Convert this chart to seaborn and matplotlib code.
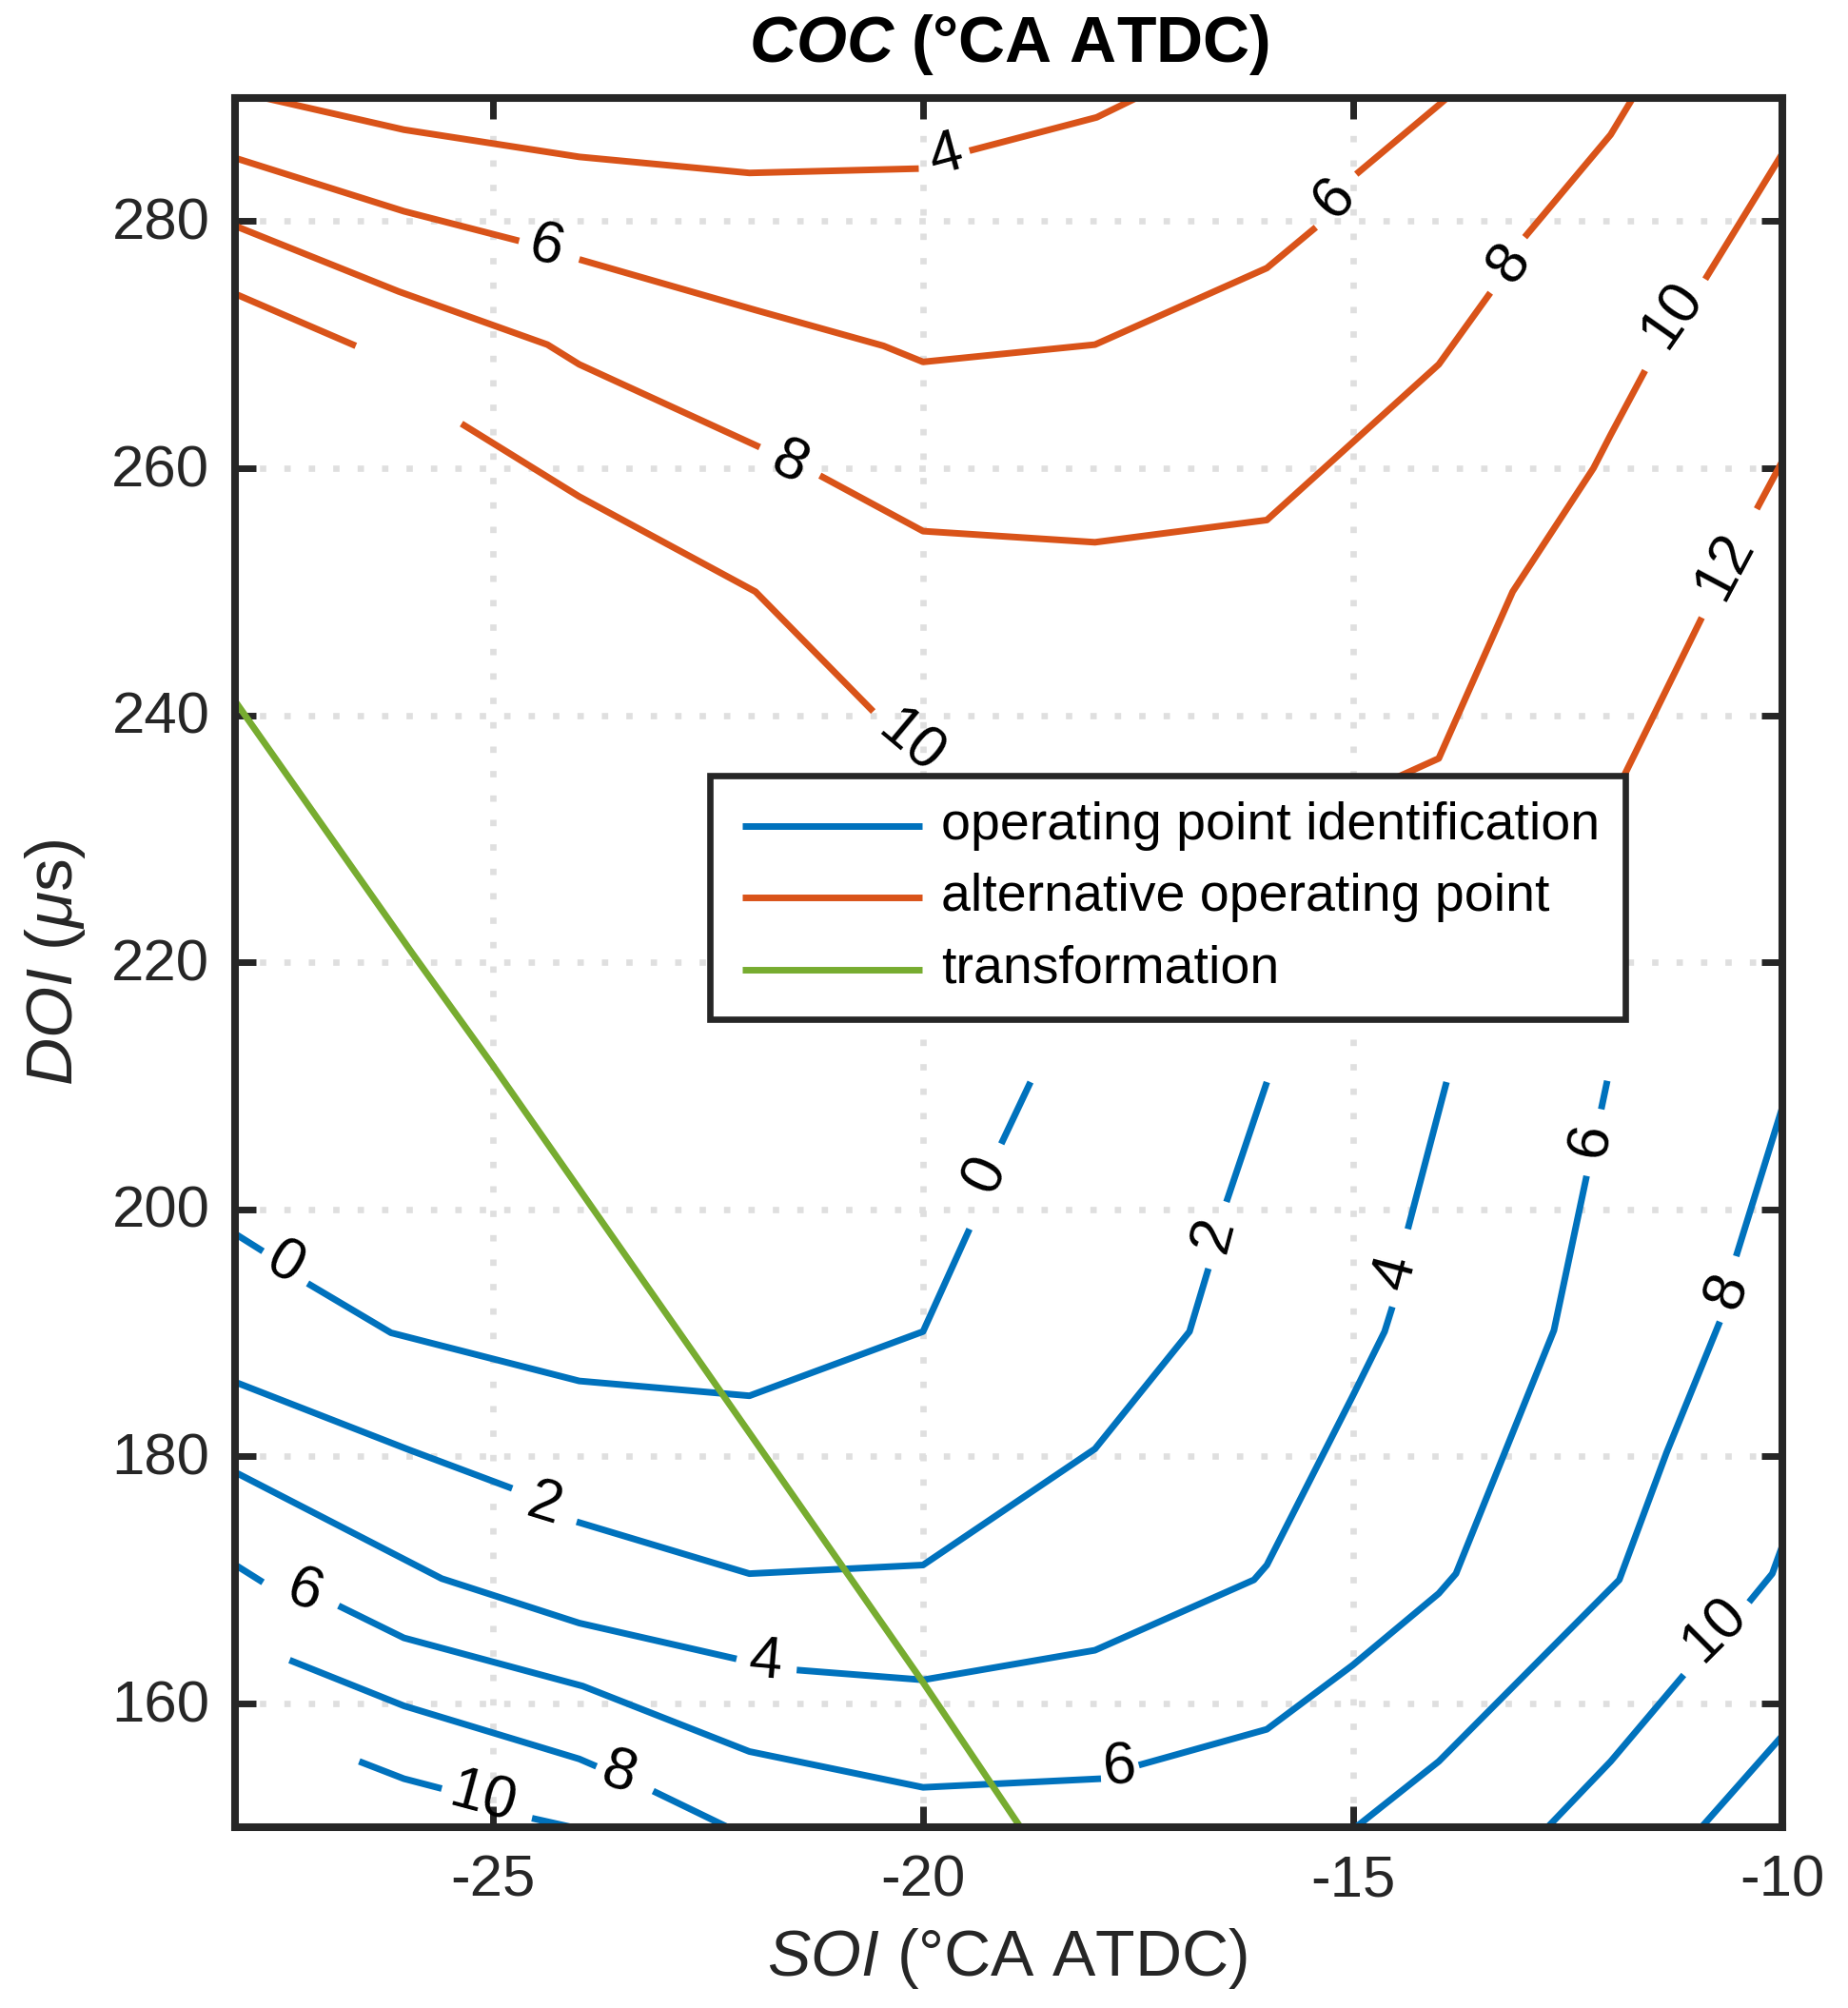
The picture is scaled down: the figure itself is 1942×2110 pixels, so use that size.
import matplotlib
matplotlib.use("Agg")
import matplotlib.pyplot as plt
from matplotlib.legend_handler import HandlerLine2D
from matplotlib.lines import Line2D
from matplotlib.transforms import ScaledTranslation
import seaborn as sns

# ------------------------------
# DATA
# ------------------------------

# alternative operating point, contour pieces between the labels
alt_4a_x = [-28.0, -27.68, -26.04, -24.0, -22.02, -20.05]
alt_4a_y = [290.6, 290.0, 287.4, 285.2, 283.9, 284.25]
alt_4b_x = [-19.46, -17.98, -17.51]
alt_4b_y = [285.7, 288.4, 290.0]
alt_6a_x = [-28.0, -26.04, -24.7]
alt_6a_y = [285.1, 280.8, 278.4]
alt_6b_x = [-24.0, -21.95, -20.46, -20.0, -18.0, -16.0, -15.43]
alt_6b_y = [276.9, 272.8, 269.9, 268.6, 270.0, 276.2, 279.5]
alt_6c_x = [-14.96, -14.0, -13.9]
alt_6c_y = [283.8, 289.4, 290.0]
alt_8a_x = [-28.0, -26.1, -24.37, -24.0, -21.9]
alt_8a_y = [279.6, 274.3, 270.0, 268.4, 261.7]
alt_8b_x = [-21.2, -20.0, -18.0, -16.0, -14.0, -13.4]
alt_8b_y = [259.4, 254.9, 254.0, 255.8, 268.4, 274.2]
alt_8c_x = [-13.0, -12.0, -11.74]
alt_8c_y = [278.7, 287.0, 290.0]
alt_10a_x = [-28.0, -26.6]
alt_10a_y = [274.1, 269.9]
alt_10b_x = [-25.37, -24.0, -21.95, -20.58]
alt_10b_y = [263.6, 257.7, 250.0, 240.3]
alt_10c_x = [-14.73, -14.0, -13.14, -12.2, -12.0, -11.6]
alt_10c_y = [234.2, 236.5, 250.0, 260.0, 262.7, 267.9]
alt_10d_x = [-10.9, -10.0]
alt_10d_y = [275.3, 285.5]
alt_12a_x = [-11.95, -10.94]
alt_12a_y = [233.6, 247.9]
alt_12b_x = [-10.3, -10.0]
alt_12b_y = [256.7, 260.6]

# operating point identification
op_0a_x = [-28.0, -27.68]
op_0a_y = [198.0, 196.6]
op_0b_x = [-27.16, -26.19, -24.0, -22.02, -20.0, -19.46]
op_0b_y = [194.0, 190.0, 186.1, 184.9, 190.1, 198.4]
op_0c_x = [-19.09, -18.75]
op_0c_y = [205.3, 210.3]
op_2a_x = [-28.0, -25.97, -24.78]
op_2a_y = [186.0, 180.5, 177.4]
op_2b_x = [-24.03, -22.02, -20.0, -18.0, -16.9, -16.68]
op_2b_y = [174.7, 170.5, 171.2, 180.6, 190.1, 195.2]
op_2c_x = [-16.47, -16.0]
op_2c_y = [200.6, 210.3]
op_4a_x = [-28.0, -25.6, -24.0, -22.17]
op_4a_y = [178.7, 170.1, 166.5, 163.6]
op_4b_x = [-21.47, -20.0, -18.0, -16.15, -16.0, -15.0, -14.63, -14.54]
op_4b_y = [162.7, 161.9, 164.3, 170.0, 171.2, 184.9, 190.1, 192.1]
op_4c_x = [-14.36, -13.91]
op_4c_y = [198.4, 210.3]
op_6a_x = [-28.0, -27.68]
op_6a_y = [171.2, 169.8]
op_6b_x = [-26.8, -26.04, -23.96, -22.02, -20.0, -17.93]
op_6b_y = [167.9, 165.3, 161.4, 156.1, 153.2, 153.9]
op_6c_x = [-17.49, -16.0, -15.0, -14.0, -13.8, -12.66, -12.28]
op_6c_y = [155.0, 157.9, 163.1, 168.9, 170.5, 190.2, 202.7]
op_6d_x = [-12.11, -12.04]
op_6d_y = [208.1, 210.4]
op_8a_x = [-27.37, -26.04, -24.0, -23.8]
op_8a_y = [163.5, 159.8, 155.5, 154.9]
op_8b_x = [-23.14, -22.28]
op_8b_y = [152.9, 150.0]
op_8c_x = [-14.96, -14.0, -11.9, -11.35, -10.73]
op_8c_y = [150.0, 155.3, 170.0, 180.3, 190.9]
op_8d_x = [-10.54, -10.0]
op_8d_y = [196.2, 208.3]
op_10a_x = [-26.56, -26.04, -25.6]
op_10a_y = [155.3, 153.9, 153.1]
op_10b_x = [-24.55, -24.1]
op_10b_y = [150.7, 150.0]
op_10c_x = [-12.73, -12.0, -11.15]
op_10c_y = [150.0, 155.3, 162.3]
op_10d_x = [-10.39, -10.12, -10.0]
op_10d_y = [168.2, 170.5, 172.8]
op_12_x = [-10.94, -10.0]
op_12_y = [150.0, 157.4]

# transformation
trans_x = [-28.0, -25.94, -25.0, -21.85, -20.0, -18.87]
trans_y = [241.1, 220.7, 211.6, 180.2, 161.7, 150.0]

# contour labels: value, x, y, text angle
alt_labels = [("4", -19.73, 285.3, 15), ("6", -24.38, 277.9, -15), ("8", -21.56, 260.4, -25),
              ("10", -20.15, 237.8, -40), ("6", -15.21, 281.8, 48), ("8", -13.18, 276.6, 55),
              ("10", -11.28, 272.4, 55), ("12", -10.68, 252.1, 62)]
op_labels = [("0", -27.43, 195.6, -30), ("2", -24.4, 176.1, -17), ("4", -21.83, 163.4, -5),
             ("6", -27.2, 169.0, -20), ("8", -23.54, 154.3, -17), ("10", -25.12, 152.3, -15),
             ("0", -19.27, 202.8, 65), ("2", -16.62, 198.0, 75), ("4", -14.51, 194.9, 75),
             ("6", -12.23, 205.6, 80), ("8", -10.64, 193.4, 70), ("10", -10.79, 166.0, 45),
             ("6", -17.71, 154.8, 5)]

x_ticks = [-25, -20, -15, -10]
y_ticks = [160, 180, 200, 220, 240, 260, 280]
legend_names = ["operating point identification", "alternative operating point", "transformation"]

BLUE = "#0072BD"
ORANGE = "#D95319"
GREEN = "#77AC30"
DARK = "#262626"
LINE_W = 5.0

# ------------------------------
# PLOT
# ------------------------------
sns.set_style("white")
plt.rcParams["font.family"] = ["Liberation Sans", "DejaVu Sans"]
plt.rcParams["mathtext.fontset"] = "custom"
plt.rcParams["mathtext.rm"] = "Liberation Sans"
plt.rcParams["mathtext.it"] = "Liberation Sans:italic"
plt.rcParams["mathtext.bf"] = "Liberation Sans:bold"
plt.rcParams["mathtext.bfit"] = "Liberation Sans:italic:bold"

fig = plt.figure(figsize=(19.42, 21.10), dpi=100)
ax = fig.add_axes([0.1274, 0.0902, 0.8372, 0.8612])

alt_pieces = [(alt_4a_x, alt_4a_y), (alt_4b_x, alt_4b_y), (alt_6a_x, alt_6a_y), (alt_6b_x, alt_6b_y),
              (alt_6c_x, alt_6c_y), (alt_8a_x, alt_8a_y), (alt_8b_x, alt_8b_y), (alt_8c_x, alt_8c_y),
              (alt_10a_x, alt_10a_y), (alt_10b_x, alt_10b_y), (alt_10c_x, alt_10c_y), (alt_10d_x, alt_10d_y),
              (alt_12a_x, alt_12a_y), (alt_12b_x, alt_12b_y)]
op_pieces = [(op_0a_x, op_0a_y), (op_0b_x, op_0b_y), (op_0c_x, op_0c_y), (op_2a_x, op_2a_y),
             (op_2b_x, op_2b_y), (op_2c_x, op_2c_y), (op_4a_x, op_4a_y), (op_4b_x, op_4b_y),
             (op_4c_x, op_4c_y), (op_6a_x, op_6a_y), (op_6b_x, op_6b_y), (op_6c_x, op_6c_y),
             (op_6d_x, op_6d_y), (op_8a_x, op_8a_y), (op_8b_x, op_8b_y), (op_8c_x, op_8c_y),
             (op_8d_x, op_8d_y), (op_10a_x, op_10a_y), (op_10b_x, op_10b_y), (op_10c_x, op_10c_y),
             (op_10d_x, op_10d_y), (op_12_x, op_12_y)]


def draw_piece(xs, ys, color):
    sns.lineplot(x=xs, y=ys, color=color, linewidth=LINE_W, estimator=None, sort=False,
                 ax=ax, solid_capstyle="butt", zorder=3)


# legend lines sit a little below the middle of their text
class LoweredLine(HandlerLine2D):
    def create_artists(self, legend, orig_handle, xdescent, ydescent, width, height, fontsize, trans):
        return super().create_artists(legend, orig_handle, xdescent, ydescent + 7.8, width, height,
                                      fontsize, trans)


for xs, ys in op_pieces:
    draw_piece(xs, ys, BLUE)
for xs, ys in alt_pieces:
    draw_piece(xs, ys, ORANGE)
draw_piece(trans_x, trans_y, GREEN)

for text, x, y, angle in alt_labels + op_labels:
    ax.text(x, y, text, fontsize=45, color="black", rotation=angle, rotation_mode="anchor",
            ha="center", va="center", zorder=4)

ax.set_xlim(-28, -10)
ax.set_ylim(150, 290)
ax.set_xticks(x_ticks)
ax.set_yticks(y_ticks)
ax.set_xticklabels([str(v) for v in x_ticks])

ax.grid(True, color="#DFDFDF", linewidth=4.8, linestyle=(0, (1.0, 2.85)), dash_capstyle="butt")
ax.set_axisbelow(True)
ax.tick_params(axis="both", which="major", direction="in", length=16, width=5, color=DARK,
               labelcolor=DARK, labelsize=44.5, top=True, right=True, bottom=True, left=True)
ax.tick_params(axis="x", pad=21)
ax.tick_params(axis="y", pad=19.5)
for spine in ax.spines.values():
    spine.set_linewidth(5.8)
    spine.set_color(DARK)
    spine.set_zorder(6)

# y tick labels sit slightly higher than matplotlib centres them
lift = ScaledTranslation(0, 2 / 72, fig.dpi_scale_trans)
for lab in ax.get_yticklabels():
    lab.set_transform(lab.get_transform() + lift)

ax.set_xlabel(r"$\mathit{SOI}$ ($\degree$CA ATDC)", fontsize=49, color=DARK, labelpad=13, x=0.4985)
ax.set_ylabel(r"$\mathit{DOI}$ ($\mu$s)", fontsize=50, color=DARK, labelpad=18.5)
ax.set_title(r"$\mathbfit{COC}$ ($\mathbf{\degree}$CA ATDC)", fontsize=49, fontweight="bold",
             color="black", pad=27)

handles = [Line2D([], [], color=c, linewidth=LINE_W, solid_capstyle="butt") for c in (BLUE, ORANGE, GREEN)]
legend = ax.legend(handles, legend_names, loc="lower left", bbox_to_anchor=(0.3069, 0.4668),
                   fontsize=40, frameon=True, fancybox=False, framealpha=1, edgecolor=DARK,
                   numpoints=2, handler_map={Line2D: LoweredLine(marker_pad=0.13)},
                   handlelength=3.66, handletextpad=0.23, labelspacing=0.42, borderpad=0.48,
                   borderaxespad=0, labelcolor="black")
legend.get_frame().set_linewidth(4.8)
legend.set_zorder(5)

plt.savefig("out.png", dpi=100)
